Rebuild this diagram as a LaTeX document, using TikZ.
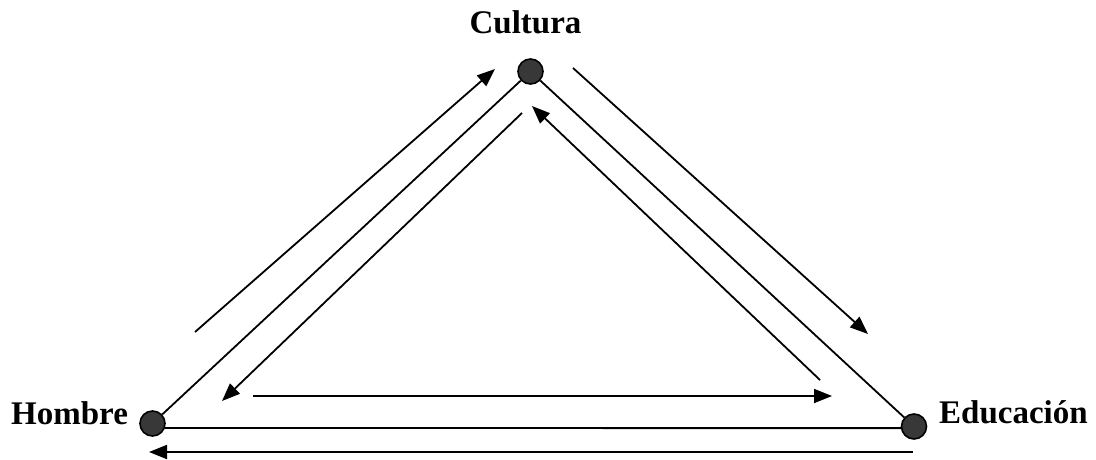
\documentclass[tikz,border=0pt]{standalone}
\usepackage{fontspec}
\setmainfont{Liberation Serif}
\usetikzlibrary{arrows.meta}
\tikzset{
  dot/.style={circle,draw=black,line width=1.6pt,fill=black!78,minimum size=25pt,inner sep=0pt},
  edge/.style={line width=1.8pt},
  arr/.style={line width=1.8pt,-{Triangle[length=18pt,width=14pt]}},
  lbl/.style={font=\fontsize{33}{38}\selectfont\bfseries,inner sep=0pt}
}
\begin{document}
\begin{tikzpicture}[x=1pt,y=-1pt]
\useasboundingbox (0,0) rectangle (1096,459);
\node[dot] (C) at (530.5,71.5) {};
\node[dot] (H) at (152.5,423.5) {};
\node[dot] (E) at (914,426.5) {};
\node[lbl,anchor=base] (lc) at (525.5,33) {Cultura};
\node[lbl,anchor=base west] (lh) at (11,424) {Hombre};
\node[lbl,anchor=base west] (le) at (939,423) {Educación};
% main triangle
\draw[edge] (C) -- (H);
\draw[edge] (C) -- (E);
\draw[edge] (H.-20) -- (E.187);
% arrow end points
\coordinate (a1s) at (195,332);  \coordinate (a1e) at (495,69);
\coordinate (a2s) at (522,113);  \coordinate (a2e) at (222,401);
\coordinate (a3s) at (573,68);   \coordinate (a3e) at (868,334);
\coordinate (a4s) at (820,380);  \coordinate (a4e) at (532,106);
\coordinate (a5s) at (253,396);  \coordinate (a5e) at (832,396);
\coordinate (a6s) at (913,452);  \coordinate (a6e) at (149,452);
\draw[arr] (a1s) -- (a1e);
\draw[arr] (a2s) -- (a2e);
\draw[arr] (a3s) -- (a3e);
\draw[arr] (a4s) -- (a4e);
\draw[arr] (a5s) -- (a5e);
\draw[arr] (a6s) -- (a6e);
\end{tikzpicture}
\end{document}
